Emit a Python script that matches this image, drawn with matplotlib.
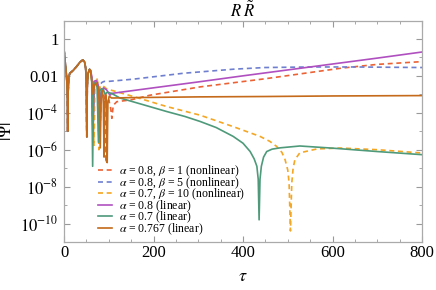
import numpy as np
import matplotlib
matplotlib.use("Agg")
import matplotlib.pyplot as plt
from matplotlib.ticker import FixedLocator, FixedFormatter

plt.rcParams['font.family'] = ['Liberation Serif', 'DejaVu Serif']
plt.rcParams['mathtext.fontset'] = 'stix'

# shared early part (tau, log10|Psi|)
tau_common = [0, 2, 4, 6, 7.5, 8.3, 9, 10.5, 13, 20, 28, 36, 42, 46, 48.5, 50, 51, 52, 54, 57, 59]
log_common = [-0.56, -1.1, -1.6, -2.1, -3.0, -5.0, -3.0, -2.1, -1.86, -1.72, -1.5, -1.25, -1.14, -1.25, -1.6, -2.5, -5.3, -2.5, -1.85, -1.65, -1.7]

# alpha=0.8, beta=1 (nonlinear)
tau_b1 = [62, 65, 68, 73, 77, 80, 83, 87, 91, 94, 97, 100, 104, 107, 110, 118, 150, 192, 304, 449, 621, 700, 800]
log_b1 = [-2.1, -4.8, -2.5, -2.4, -2.8, -5.5, -3.0, -2.8, -3.3, -6.7, -3.4, -3.3, -3.7, -4.3, -3.6, -3.4, -3.3, -3.05, -2.6, -2.16, -1.58, -1.38, -1.23]

# alpha=0.8, beta=5 (nonlinear)
tau_b5 = [62, 65, 68, 72, 75, 77.5, 80, 85, 90, 100, 155, 267, 379, 449, 550, 650, 800]
log_b5 = [-2.05, -5.6, -2.4, -2.3, -2.6, -5.0, -2.5, -2.35, -2.3, -2.3, -2.18, -1.86, -1.64, -1.55, -1.52, -1.52, -1.55]

# alpha=0.7, beta=10 (nonlinear)
tau_b10 = [62, 65, 67, 69, 73, 76, 78, 80, 85, 90, 95, 103, 155, 229, 304, 378, 438, 460, 475, 487, 494, 500, 503, 506, 509, 512, 516, 527, 565, 617, 700, 800]
log_b10 = [-2.1, -4.0, -5.8, -2.5, -2.1, -2.4, -6.0, -2.6, -2.5, -2.6, -2.7, -2.76, -3.12, -3.66, -4.13, -4.75, -5.28, -5.55, -5.82, -6.15, -6.54, -7.1, -7.8, -10.4, -7.8, -7.0, -6.54, -6.17, -5.96, -5.91, -6.0, -6.18]

# alpha=0.8 (linear)
tau_l08 = [62, 64.5, 67, 72, 76, 79, 81, 83, 88, 95, 100, 103, 106, 110, 200, 300, 400, 500, 600, 700, 800]
log_l08 = [-2.0, -5.2, -2.3, -2.25, -2.45, -2.9, -4.3, -2.9, -2.65, -2.75, -2.95, -3.05, -2.95, -2.94, -2.65, -2.33, -2.0, -1.68, -1.36, -1.04, -0.71]

# alpha=0.7 (linear)
tau_l07 = [62, 64, 66, 70, 74, 77, 80, 84, 88, 92, 96, 100, 110, 125, 175, 229, 270, 304, 340, 378, 400, 416, 425, 431, 434, 436, 438, 441, 446, 453, 465, 483, 527, 602, 700, 800]
log_l07 = [-2.3, -6.9, -2.6, -2.35, -2.6, -5.6, -2.8, -2.7, -2.75, -3.0, -2.9, -2.9, -3.0, -3.2, -3.55, -3.93, -4.2, -4.47, -4.8, -5.28, -5.65, -6.1, -6.5, -6.9, -7.6, -9.8, -7.6, -6.9, -6.4, -6.1, -5.97, -5.9, -5.8, -5.92, -6.1, -6.27]

# alpha=0.767 (linear)
tau_l0767 = [62, 65, 68, 72, 76, 79, 81, 83, 86, 88, 89.5, 91, 93, 95, 96.5, 98, 101, 106, 112, 150, 300, 450, 600, 800]
log_l0767 = [-2.3, -3.0, -2.5, -2.4, -2.6, -3.5, -5.9, -3.2, -2.8, -3.5, -6.4, -3.5, -3.0, -3.4, -6.7, -3.5, -3.1, -3.2, -3.2, -3.18, -3.14, -3.12, -3.09, -3.07]

curves = [
    (tau_b1, log_b1, '#EB6235', '--', r'$\alpha$ = 0.8, $\beta$ = 1 (nonlinear)'),
    (tau_b5, log_b5, '#6F7FD0', '--', r'$\alpha$ = 0.8, $\beta$ = 5 (nonlinear)'),
    (tau_b10, log_b10, '#F5A623', '--', r'$\alpha$ = 0.7, $\beta$ = 10 (nonlinear)'),
    (tau_l08, log_l08, '#B050C0', '-', r'$\alpha$ = 0.8 (linear)'),
    (tau_l07, log_l07, '#4E9A7A', '-', r'$\alpha$ = 0.7 (linear)'),
    (tau_l0767, log_l0767, '#C46A1A', '-', r'$\alpha$ = 0.767 (linear)'),
]

fig = plt.figure(figsize=(4.36, 2.9), dpi=100)
ax = fig.add_axes([64/436, 48/290, 358/436, 221/290])

for t, lg, col, ls, lab in curves:
    x = np.array(tau_common + t)
    y = 10.0 ** np.array(log_common + lg)
    if ls == '--':
        ax.plot(x, y, color=col, lw=1.2, label=lab, dashes=(3, 2.2))
    else:
        ax.plot(x, y, color=col, lw=1.2, label=lab)

ax.set_yscale('log')
ax.set_xlim(0, 800)
ax.set_ylim(1e-11, 10 ** 0.97)

ax.xaxis.set_major_locator(FixedLocator([0, 200, 400, 600, 800]))
ax.xaxis.set_minor_locator(FixedLocator(np.arange(0, 801, 50)))
ax.yaxis.set_major_locator(FixedLocator([1, 1e-2, 1e-4, 1e-6, 1e-8, 1e-10]))
ax.yaxis.set_major_formatter(FixedFormatter(['1', '0.01', r'$10^{-4}$', r'$10^{-6}$', r'$10^{-8}$', r'$10^{-10}$']))
ax.yaxis.set_minor_locator(FixedLocator([1e-1, 1e-3, 1e-5, 1e-7, 1e-9, 1e-11]))
ax.yaxis.set_minor_formatter(FixedFormatter([''] * 6))

ax.tick_params(which='both', direction='in', top=True, right=True, color='#999999', labelsize=12)
ax.tick_params(axis='x', pad=2)
ax.tick_params(axis='y', pad=4)
ax.tick_params(which='major', length=4, width=0.8)
ax.tick_params(which='minor', length=2.5, width=0.6)
for s in ax.spines.values():
    s.set_color('#aaaaaa')
    s.set_linewidth(0.9)

ax.set_title(r'$R\;\tilde{R}$', fontsize=12, pad=1)
ax.set_xlabel(r'$\tau$', fontsize=13, labelpad=5)
ax.set_ylabel(r'$|\Psi|$', fontsize=12, labelpad=4)

ax.legend(loc='upper left', bbox_to_anchor=(0.095, 0.354), frameon=False, fontsize=8.5,
          handlelength=1.2, handletextpad=0.6, labelspacing=-0.33, borderpad=0, borderaxespad=0)

fig.savefig('out.png', dpi=100)
